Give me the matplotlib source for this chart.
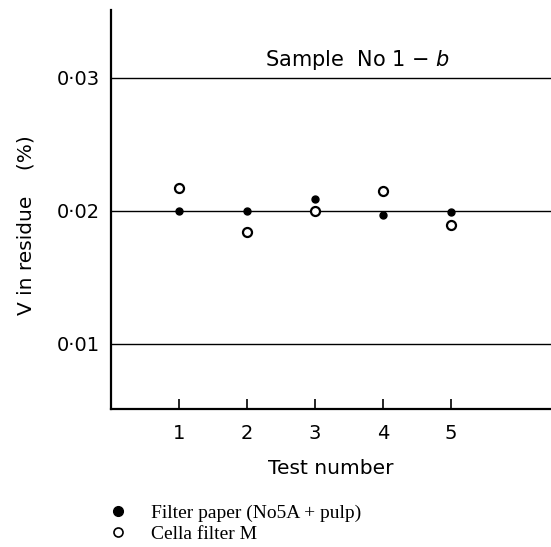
import matplotlib.pyplot as plt
from matplotlib.lines import Line2D

test_number = [1, 2, 3, 4, 5]
filter_paper = [0.0200, 0.0200, 0.0209, 0.0197, 0.0199]
cella_filter = [0.0217, 0.0184, 0.0200, 0.0215, 0.0189]
y_ticks = [0.01, 0.02, 0.03]
y_tick_labels = ["0·01", "0·02", "0·03"]
legend_labels = ["Filter paper (No5A + pulp)", "Cella filter M"]

fig = plt.figure(figsize=(5.51, 5.47), dpi=100)
ax = fig.add_axes([0.2015, 0.2523, 0.7985, 0.7294])

for v in y_ticks:
    ax.axhline(v, color="black", lw=1.0, zorder=1)

ax.plot(test_number, filter_paper, "o", color="black", ms=5, zorder=3)
ax.plot(test_number, cella_filter, "o", mfc="white", mec="black", mew=1.6,
        ms=6.5, zorder=3)

ax.set_xlim(0, 6.47)
ax.set_ylim(0.0051, 0.0351)
ax.set_xticks(test_number)
ax.set_xticklabels([str(t) for t in test_number], fontsize=14)
ax.set_yticks(y_ticks)
ax.set_yticklabels(y_tick_labels, fontsize=14)
ax.tick_params(axis="x", direction="in", length=7, width=1.2, pad=11)
ax.tick_params(axis="y", length=0, pad=8)

for s in ["top", "right"]:
    ax.spines[s].set_visible(False)
for s in ["left", "bottom"]:
    ax.spines[s].set_linewidth(1.6)

ax.set_xlabel("Test number", fontsize=14.5, labelpad=11)
ax.set_ylabel("V in residue    (%)", fontsize=14.5)
ax.yaxis.set_label_coords(-0.172, 0.46)
ax.text(3.63, 0.0309, r"Sample  No 1 $-$ $\mathit{b}$", fontsize=15,
        ha="center", va="baseline")

handles = [
    Line2D([], [], ls="none", marker="o", color="black", ms=7),
    Line2D([], [], ls="none", marker="o", mfc="white", mec="black", mew=1.2, ms=6.5),
]
fig.legend(handles, legend_labels, loc="upper left", bbox_to_anchor=(0.197, 0.078),
           frameon=False, prop={"family": "Liberation Serif", "size": 14},
           handletextpad=1.2, labelspacing=0.15, handlelength=1.0,
           borderpad=0, borderaxespad=0)

fig.savefig("out.png", dpi=100)
